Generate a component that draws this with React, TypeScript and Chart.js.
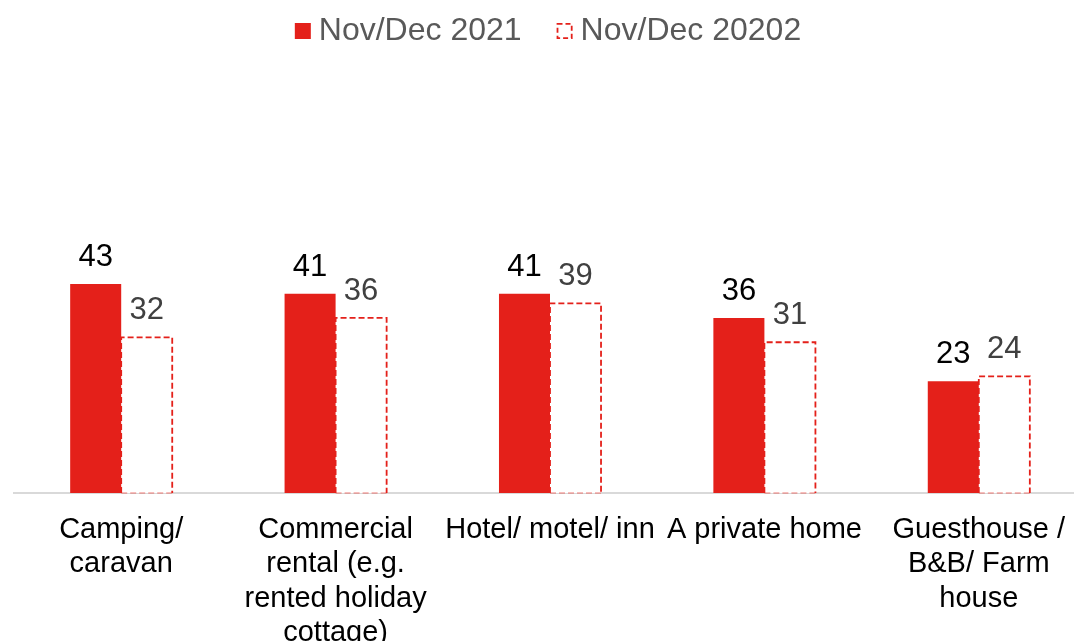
import React, { useEffect, useRef } from "react";
import { Chart, registerables } from "chart.js";

Chart.register(...registerables);

const categories: (string | string[])[] = [
  ["Camping/", "caravan"],
  ["Commercial", "rental (e.g.", "rented holiday", "cottage)"],
  "Hotel/ motel/ inn",
  "A private home",
  ["Guesthouse /", "B&B/ Farm", "house"],
];
const series2021: number[] = [43, 41, 41, 36, 23];
const series2020: number[] = [32, 36, 39, 31, 24];
const seriesNames: string[] = ["Nov/Dec 2021", "Nov/Dec 20202"];

const RED = "#E4201A";
const FONT = "Arial, 'Liberation Sans', sans-serif";

const dashedBarsPlugin = {
  id: "dashedBars",
  afterDatasetsDraw(chart: any) {
    const ctx = chart.ctx;
    const meta = chart.getDatasetMeta(1);
    ctx.save();
    ctx.strokeStyle = RED;
    ctx.lineWidth = 1.8;
    ctx.setLineDash([6, 3]);
    meta.data.forEach((el: any) => {
      const left = el.x - el.width / 2;
      const right = el.x + el.width / 2;
      const top = el.y;
      const bottom = el.base;
      ctx.beginPath();
      ctx.moveTo(left, bottom);
      ctx.lineTo(left, top);
      ctx.lineTo(right, top);
      ctx.lineTo(right, bottom);
      ctx.stroke();
      ctx.globalAlpha = 0.3;
      ctx.beginPath();
      ctx.moveTo(left, bottom);
      ctx.lineTo(right, bottom);
      ctx.stroke();
      ctx.globalAlpha = 1;
    });
    ctx.restore();
  },
};

const valueLabelsPlugin = {
  id: "valueLabels",
  afterDatasetsDraw(chart: any) {
    const ctx = chart.ctx;
    ctx.save();
    ctx.font = `31px ${FONT}`;
    ctx.textAlign = "center";
    ctx.textBaseline = "alphabetic";
    chart.data.datasets.forEach((ds: any, di: number) => {
      const meta = chart.getDatasetMeta(di);
      ctx.fillStyle = di === 0 ? "#000000" : "#404040";
      meta.data.forEach((el: any, i: number) => {
        ctx.fillText(String(ds.data[i]), el.x, el.y - 18);
      });
    });
    ctx.restore();
  },
};

const legendPlugin = {
  id: "customLegend",
  afterDraw(chart: any) {
    const ctx = chart.ctx;
    ctx.save();
    ctx.font = `32px ${FONT}`;
    const box = 16;
    const gap = 8;
    const itemGap = 35;
    const w0 = ctx.measureText(seriesNames[0]).width;
    const w1 = ctx.measureText(seriesNames[1]).width;
    const total = box + gap + w0 + itemGap + box + gap + w1;
    let x = 548 - total / 2;
    const baseline = 40;
    const boxTop = 23;
    ctx.fillStyle = RED;
    ctx.fillRect(x, boxTop, box, box);
    x += box + gap;
    ctx.fillStyle = "#595959";
    ctx.textBaseline = "alphabetic";
    ctx.fillText(seriesNames[0], x, baseline);
    x += w0 + itemGap;
    ctx.fillStyle = "#ffffff";
    ctx.fillRect(x, boxTop, box, box);
    ctx.strokeStyle = RED;
    ctx.lineWidth = 1.8;
    ctx.setLineDash([5, 3]);
    ctx.strokeRect(x + 0.9, boxTop + 0.9, box - 1.8, box - 1.8);
    ctx.setLineDash([]);
    x += box + gap;
    ctx.fillStyle = "#595959";
    ctx.fillText(seriesNames[1], x, baseline);
    ctx.restore();
  },
};

export default function App() {
  const canvasRef = useRef<HTMLCanvasElement | null>(null);

  useEffect(() => {
    if (!canvasRef.current) return;
    const chart = new Chart(canvasRef.current, {
      type: "bar",
      data: {
        labels: categories,
        datasets: [
          {
            label: seriesNames[0],
            data: series2021,
            backgroundColor: RED,
            borderWidth: 0,
            categoryPercentage: 0.476,
            barPercentage: 1,
          },
          {
            label: seriesNames[1],
            data: series2020,
            backgroundColor: "#ffffff",
            borderWidth: 0,
            categoryPercentage: 0.476,
            barPercentage: 1,
          },
        ],
      },
      options: {
        responsive: false,
        animation: false,
        devicePixelRatio: 1,
        layout: { padding: { left: 14, right: 14, top: 104, bottom: 0 } },
        plugins: {
          legend: { display: false },
          tooltip: { enabled: false },
        },
        scales: {
          x: {
            grid: { display: false, drawTicks: false },
            border: { display: true, color: "#D9D9D9", width: 2 },
            ticks: {
              color: "#000000",
              font: { family: FONT, size: 29, lineHeight: 1.18 },
              padding: 20,
              maxRotation: 0,
              autoSkip: false,
            },
            afterFit: (scale: any) => {
              scale.height = 148;
            },
          },
          y: {
            display: false,
            min: 0,
            max: 80,
          },
        },
      },
      plugins: [dashedBarsPlugin, valueLabelsPlugin, legendPlugin],
    });
    return () => chart.destroy();
  }, []);

  return (
    <div
      style={{
        position: "fixed",
        left: 0,
        top: 0,
        width: 1074,
        height: 641,
        overflow: "hidden",
        background: "#ffffff",
      }}
    >
      <canvas
        ref={canvasRef}
        width={1100}
        height={641}
        style={{ width: 1100, height: 641, display: "block" }}
      />
    </div>
  );
}
